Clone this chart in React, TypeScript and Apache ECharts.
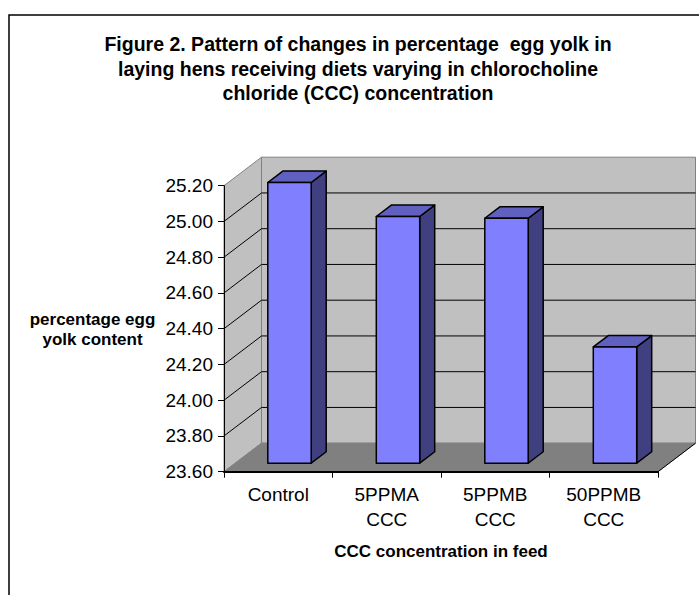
import React, { useEffect, useRef } from 'react';
import * as echarts from 'echarts';

// ---- data ----
const categories: string[] = ['Control', '5PPMA\nCCC', '5PPMB\nCCC', '50PPMB\nCCC'];
const values: number[] = [25.17, 24.98, 24.97, 24.25];
const yMin = 23.6;
const yMax = 25.2;
const yStep = 0.2;
const gridValues: number[] = [23.8, 24.0, 24.2, 24.4, 24.6, 24.8, 25.0];
const titleLines: string[] = [
  'Figure 2. Pattern of changes in percentage  egg yolk in',
  'laying hens receiving diets varying in chlorocholine',
  'chloride (CCC) concentration',
];
const yAxisTitleLines: string[] = ['percentage egg', 'yolk content'];
const xAxisTitle = 'CCC concentration in feed';

// ---- style constants ----
const FONT = "'Liberation Sans', Arial, Helvetica, sans-serif";
const DX = 37.5; // 3D depth offset
const DY = -28.5;
const BAR_FRONT = 0.3; // depth fraction of bar front face
const BAR_DEPTH = 0.4; // depth fraction of bar thickness
const BAR_WIDTH = 0.4; // fraction of category width

export default function App() {
  const ref = useRef<HTMLDivElement>(null);

  useEffect(() => {
    if (!ref.current) return;
    const chart = echarts.init(ref.current, undefined, { renderer: 'svg' });

    const wallsRender = (params: any, api: any) => {
      const cs = params.coordSys;
      const x = cs.x, y = cs.y, w = cs.width, h = cs.height;
      return {
        type: 'group',
        children: [
          {
            type: 'polygon',
            shape: { points: [[x, y], [x + DX, y + DY], [x + DX, y + h + DY], [x, y + h]] },
            style: { fill: '#c0c0c0', stroke: '#808080', lineWidth: 1 },
          },
          {
            type: 'rect',
            shape: { x: x + DX, y: y + DY, width: w, height: h },
            style: { fill: '#c0c0c0', stroke: '#808080', lineWidth: 1 },
          },
          {
            type: 'polygon',
            shape: { points: [[x, y + h], [x + DX, y + h + DY], [x + w + DX, y + h + DY], [x + w, y + h]] },
            style: { fill: '#808080', stroke: '#808080', lineWidth: 1 },
          },
          {
            type: 'line',
            shape: { x1: x + w, y1: y + h, x2: x + w + DX, y2: y + h + DY },
            style: { stroke: '#000', lineWidth: 1 },
          },
        ],
      };
    };

    const gridRender = (params: any, api: any) => {
      const cs = params.coordSys;
      const x = cs.x, w = cs.width;
      const yf = api.coord([0, api.value(1)])[1];
      return {
        type: 'group',
        children: [
          {
            type: 'line',
            shape: { x1: x, y1: yf, x2: x + DX, y2: yf + DY },
            style: { stroke: '#000', lineWidth: 1 },
          },
          {
            type: 'line',
            shape: { x1: x + DX, y1: yf + DY, x2: x + w + DX, y2: yf + DY },
            style: { stroke: '#000', lineWidth: 1 },
          },
        ],
      };
    };

    const barRender = (params: any, api: any) => {
      const idx = api.value(0);
      const val = api.value(1);
      const top = api.coord([idx, val]);
      const base = api.coord([idx, yMin]);
      const cw = api.size([1, 0])[0];
      const bw = cw * BAR_WIDTH;
      const x0 = top[0] + DX * BAR_FRONT - bw / 2;
      const x1 = x0 + bw;
      const yT = top[1] + DY * BAR_FRONT;
      const yB = base[1] + DY * BAR_FRONT;
      const bx = DX * BAR_DEPTH;
      const by = DY * BAR_DEPTH;
      const stroke = { stroke: '#000', lineWidth: 1.5, lineJoin: 'round' };
      return {
        type: 'group',
        children: [
          {
            type: 'polygon',
            shape: { points: [[x1, yT], [x1 + bx, yT + by], [x1 + bx, yB + by], [x1, yB]] },
            style: { fill: '#404080', ...stroke },
          },
          {
            type: 'polygon',
            shape: { points: [[x0, yT], [x0 + bx, yT + by], [x1 + bx, yT + by], [x1, yT]] },
            style: { fill: '#6060c0', ...stroke },
          },
          {
            type: 'rect',
            shape: { x: x0, y: yT, width: bw, height: yB - yT },
            style: { fill: '#8080ff', ...stroke },
          },
        ],
      };
    };

    const option: any = {
      animation: false,
      backgroundColor: '#ffffff',
      grid: {
        left: 224,
        right: 41,
        top: 185.7,
        bottom: 123.3,
        containLabel: false,
        outerBoundsMode: 'none',
      },
      xAxis: {
        type: 'category',
        data: categories,
        boundaryGap: true,
        z: 5,
        axisLine: { show: true, lineStyle: { color: '#000', width: 2 } },
        axisTick: { show: true, length: 6, lineStyle: { color: '#000', width: 1 } },
        axisLabel: {
          interval: 0,
          color: '#000',
          fontSize: 19,
          fontFamily: FONT,
          lineHeight: 24.3,
          margin: 11,
        },
        splitLine: { show: false },
      },
      yAxis: {
        type: 'value',
        min: yMin,
        max: yMax,
        interval: yStep,
        z: 5,
        axisLine: { show: true, lineStyle: { color: '#000', width: 1 } },
        axisTick: { show: true, length: 6, lineStyle: { color: '#000', width: 1 } },
        axisLabel: {
          color: '#000',
          fontSize: 19,
          fontFamily: FONT,
          margin: 11,
          formatter: (v: number) => v.toFixed(2),
        },
        splitLine: { show: false },
      },
      series: [
        {
          type: 'custom',
          name: 'walls',
          z: 1,
          silent: true,
          renderItem: wallsRender,
          data: [[0, yMin]],
          encode: { x: 0, y: 1 },
        },
        {
          type: 'custom',
          name: 'gridlines',
          z: 1,
          silent: true,
          renderItem: gridRender,
          data: gridValues.map((v) => [0, v]),
          encode: { x: 0, y: 1 },
        },
        {
          type: 'custom',
          name: 'percentage egg yolk',
          z: 3,
          renderItem: barRender,
          data: values.map((v, i) => [i, v]),
          encode: { x: 0, y: 1 },
        },
      ],
      graphic: [
        {
          type: 'rect',
          shape: { x: 9, y: 15, width: 800, height: 700 },
          style: { fill: 'none', stroke: '#000', lineWidth: 1.5 },
          z: 0,
        },
        {
          type: 'text',
          x: 358,
          y: 68.5,
          style: {
            text: titleLines.join('\n'),
            font: `bold 19.5px ${FONT}`,
            fill: '#000',
            align: 'center',
            verticalAlign: 'middle',
            lineHeight: 24.7,
          },
        },
        {
          type: 'text',
          x: 92.5,
          y: 329,
          style: {
            text: yAxisTitleLines.join('\n'),
            font: `bold 17px ${FONT}`,
            fill: '#000',
            align: 'center',
            verticalAlign: 'middle',
            lineHeight: 20,
          },
        },
        {
          type: 'text',
          x: 441,
          y: 551.5,
          style: {
            text: xAxisTitle,
            font: `bold 17px ${FONT}`,
            fill: '#000',
            align: 'center',
            verticalAlign: 'middle',
          },
        },
      ],
    };

    chart.setOption(option);
    return () => {
      chart.dispose();
    };
  }, []);

  return (
    <div
      ref={ref}
      style={{ position: 'fixed', left: 0, top: 0, width: 699, height: 595, background: '#fff' }}
    />
  );
}
